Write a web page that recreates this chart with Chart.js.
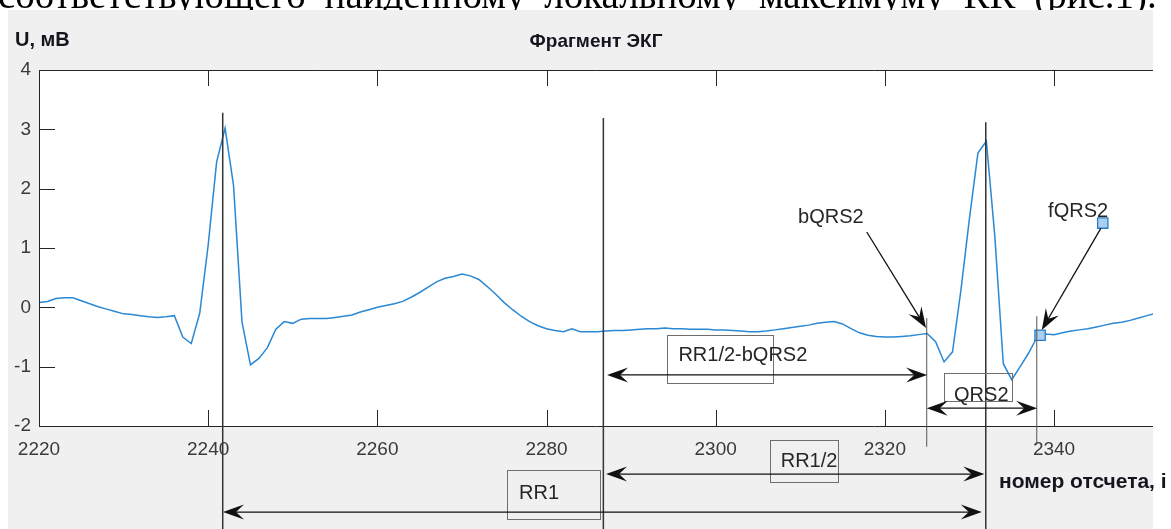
<!DOCTYPE html>
<html><head><meta charset="utf-8">
<script src="https://cdn.jsdelivr.net/npm/chart.js@4.4.0/dist/chart.umd.min.js"></script>
<style>html,body{margin:0;padding:0;background:#fff;overflow:hidden}canvas{display:block}</style>
</head><body>
<canvas id="c" width="1171" height="529" style="width:1171px;height:529px"></canvas>
<script>
// ---- data ----
const sampleIndex = [2220,2221,2222,2223,2224,2225,2226,2227,2228,2229,2230,2231,2232,2233,2234,2235,2236,2237,2238,2239,
2240,2241,2242,2243,2244,2245,2246,2247,2248,2249,2250,2251,2252,2253,2254,2255,2256,2257,2258,2259,
2260,2261,2262,2263,2264,2265,2266,2267,2268,2269,2270,2271,2272,2273,2274,2275,2276,2277,2278,2279,
2280,2281,2282,2283,2284,2285,2286,2287,2288,2289,2290,2291,2292,2293,2294,2295,2296,2297,2298,2299,
2300,2301,2302,2303,2304,2305,2306,2307,2308,2309,2310,2311,2312,2313,2314,2315,2316,2317,2318,2319,
2320,2321,2322,2323,2324,2325,2326,2327,2328,2329,2330,2331,2332,2333,2334,2335,2336,2337,2338,2339,
2340,2341,2342,2343,2344,2345,2346,2347,2348,2349,2350,2351,2352];
const ecgValues = [0.08,0.10,0.15,0.16,0.16,0.11,0.06,0.01,-0.03,-0.07,-0.11,-0.12,-0.14,-0.16,-0.17,-0.16,-0.14,-0.50,-0.61,-0.10,
1.05,2.45,3.02,2.05,-0.25,-0.97,-0.86,-0.68,-0.37,-0.24,-0.27,-0.20,-0.19,-0.19,-0.19,-0.17,-0.15,-0.13,-0.08,-0.04,
0.00,0.03,0.06,0.10,0.17,0.25,0.34,0.43,0.49,0.52,0.56,0.53,0.47,0.35,0.22,0.08,-0.04,-0.15,-0.24,-0.31,
-0.36,-0.39,-0.41,-0.36,-0.41,-0.41,-0.41,-0.40,-0.39,-0.39,-0.38,-0.37,-0.36,-0.36,-0.35,-0.36,-0.36,-0.37,-0.37,-0.37,
-0.38,-0.38,-0.39,-0.40,-0.41,-0.41,-0.40,-0.38,-0.36,-0.34,-0.32,-0.30,-0.27,-0.25,-0.24,-0.28,-0.36,-0.43,-0.47,-0.49,
-0.50,-0.50,-0.49,-0.48,-0.46,-0.44,-0.58,-0.92,-0.75,0.30,1.50,2.60,2.80,1.20,-0.95,-1.22,-1.00,-0.77,-0.50,-0.45,
-0.46,-0.43,-0.40,-0.38,-0.36,-0.33,-0.30,-0.27,-0.25,-0.22,-0.18,-0.14,-0.10];
const xTickValues = [2220,2240,2260,2280,2300,2320,2340];
const yTickValues = [-2,-1,0,1,2,3,4];
const markerX = [2338.35, 2345.76];
const markerY = [-0.47, 1.42];

// annotation geometry, in data units (sample index, mV)
const rPeakLines = [[2241.72, 3.28, -3.9], [2286.72, 3.19, -3.9], [2331.93, 3.12, -3.9]];
const qrsEdgeLines = [[2324.95, -0.18, -2.35], [2337.96, -0.15, -2.32]];
const spanArrows = [[2287.16, 2325.0, -1.14], [2324.95, 2338.0, -1.70], [2287.04, 2331.76, -2.81], [2241.75, 2331.46, -3.45]];
const pointerArrows = [[2317.86, 1.27, 2324.87, -0.35], [2345.53, 1.33, 2338.55, -0.38]];
const boxLabels = ['RR1/2-bQRS2', 'QRS2', 'RR1/2', 'RR1'];
const boxTextPos = [[2295.59, -0.81], [2328.18, -1.48], [2307.69, -2.60], [2276.75, -3.13]];
const boxFrames = [[2294.25, 2306.78, -0.47, -1.28], [2327.0, 2335.04, -1.11, -1.58], [2306.43, 2314.5, -2.24, -2.95], [2275.33, 2286.33, -2.74, -3.57]];
const pointLabels = ['bQRS2', 'fQRS2'];
const pointLabelPos = [[2309.74, 1.51], [2339.3, 1.61]];

const titleText = 'Фрагмент ЭКГ';
const yLabelText = 'U, мВ';
const xLabelText = 'номер отсчета, i';
const pageText = 'соответствующего найденному локальному максимуму RR (рис.1).';

// ---- drawing helpers ----
function arrowHead(ctx, tx, ty, ux, uy) {
  const L = 21, W = 7.5, N = 13;
  const nx = -uy, ny = ux;
  ctx.beginPath();
  ctx.moveTo(tx, ty);
  ctx.lineTo(tx - L * ux + W * nx, ty - L * uy + W * ny);
  ctx.lineTo(tx - N * ux, ty - N * uy);
  ctx.lineTo(tx - L * ux - W * nx, ty - L * uy - W * ny);
  ctx.closePath();
  ctx.fill();
}

const decor = {
  id: 'decor',
  beforeDraw(chart) {
    const ctx = chart.ctx, a = chart.chartArea;
    ctx.save();
    ctx.fillStyle = '#ffffff';
    ctx.fillRect(0, 0, chart.width, chart.height);
    ctx.fillStyle = '#000';
    ctx.font = "39px 'Liberation Serif', 'Times New Roman', serif";
    ctx.textBaseline = 'alphabetic';
    ctx.textAlign = 'left';
    if ('wordSpacing' in ctx) ctx.wordSpacing = '9px';
    ctx.fillText(pageText, -2, 8);
    if ('wordSpacing' in ctx) ctx.wordSpacing = '0px';
    ctx.fillStyle = '#f0f0f0';
    ctx.fillRect(8, 10, a.right - 8, chart.height - 10);
    ctx.fillStyle = '#ffffff';
    ctx.fillRect(a.left, a.top, a.right - a.left, a.bottom - a.top);
    ctx.restore();
  },
  afterDraw(chart) {
    const ctx = chart.ctx, a = chart.chartArea;
    const xs = chart.scales.x, ys = chart.scales.y;
    const X = v => xs.getPixelForValue(v), Y = v => ys.getPixelForValue(v);
    ctx.save();
    // frame and inner ticks
    ctx.strokeStyle = '#262626';
    ctx.lineWidth = 1;
    ctx.beginPath();
    ctx.moveTo(a.right, a.top + 0.5); ctx.lineTo(a.left + 0.5, a.top + 0.5);
    ctx.lineTo(a.left + 0.5, a.bottom + 0.5); ctx.lineTo(a.right, a.bottom + 0.5);
    const tl = 16;
    xTickValues.forEach(v => {
      const px = Math.round(X(v)) + 0.5;
      ctx.moveTo(px, a.bottom); ctx.lineTo(px, a.bottom - tl);
      ctx.moveTo(px, a.top); ctx.lineTo(px, a.top + tl);
    });
    yTickValues.forEach(v => {
      const py = Math.round(Y(v)) + 0.5;
      ctx.moveTo(a.left, py); ctx.lineTo(a.left + tl, py);
    });
    ctx.stroke();

    // titles
    ctx.fillStyle = '#151520';
    ctx.font = "bold 19px 'Liberation Sans', Arial, sans-serif";
    ctx.textBaseline = 'middle';
    ctx.textAlign = 'center';
    ctx.fillText(titleText, (a.left + a.right) / 2, 42);
    ctx.textAlign = 'left';
    ctx.font = "bold 20px 'Liberation Sans', Arial, sans-serif";
    ctx.fillText(yLabelText, 15, 40);
    ctx.font = "bold 21px 'Liberation Sans', Arial, sans-serif";
    ctx.fillText(xLabelText, 999, 482);

    // R-peak and RR/2 marker lines
    ctx.strokeStyle = '#333333';
    ctx.lineWidth = 1.5;
    ctx.beginPath();
    rPeakLines.forEach(l => { const px = X(l[0]); ctx.moveTo(px, Y(l[1])); ctx.lineTo(px, Y(l[2])); });
    ctx.stroke();
    ctx.strokeStyle = '#555555';
    ctx.lineWidth = 1;
    ctx.beginPath();
    qrsEdgeLines.forEach(l => { const px = X(l[0]); ctx.moveTo(px, Y(l[1])); ctx.lineTo(px, Y(l[2])); });
    ctx.stroke();

    // boxes
    ctx.strokeStyle = '#6e6e6e';
    ctx.lineWidth = 1;
    boxFrames.forEach(b => {
      const x1 = X(b[0]), x2 = X(b[1]), y1 = Y(b[2]), y2 = Y(b[3]);
      ctx.strokeRect(Math.round(x1) + 0.5, Math.round(y1) + 0.5, Math.round(x2 - x1), Math.round(y2 - y1));
    });

    // span arrows (double headed)
    ctx.strokeStyle = '#111111';
    ctx.fillStyle = '#111111';
    ctx.lineWidth = 1.3;
    spanArrows.forEach(s => {
      const x1 = X(s[0]), x2 = X(s[1]), py = Y(s[2]);
      ctx.beginPath(); ctx.moveTo(x1 + 10, py); ctx.lineTo(x2 - 10, py); ctx.stroke();
      arrowHead(ctx, x1, py, -1, 0);
      arrowHead(ctx, x2, py, 1, 0);
    });
    // pointer arrows
    pointerArrows.forEach(p => {
      const x1 = X(p[0]), y1 = Y(p[1]), x2 = X(p[2]), y2 = Y(p[3]);
      const d = Math.hypot(x2 - x1, y2 - y1), ux = (x2 - x1) / d, uy = (y2 - y1) / d;
      ctx.beginPath(); ctx.moveTo(x1, y1); ctx.lineTo(x2 - 10 * ux, y2 - 10 * uy); ctx.stroke();
      arrowHead(ctx, x2, y2, ux, uy);
    });

    // labels
    ctx.fillStyle = '#262626';
    ctx.font = "20px 'Liberation Sans', Arial, sans-serif";
    ctx.textAlign = 'left';
    ctx.textBaseline = 'middle';
    boxLabels.forEach((t, i) => ctx.fillText(t, X(boxTextPos[i][0]), Y(boxTextPos[i][1])));
    pointLabels.forEach((t, i) => ctx.fillText(t, X(pointLabelPos[i][0]), Y(pointLabelPos[i][1])));
    ctx.restore();
  }
};

const ecgPoints = sampleIndex.map((x, i) => ({ x: x, y: ecgValues[i] }));
const markerPts = markerX.map((x, i) => ({ x: x, y: markerY[i] }));

new Chart(document.getElementById('c'), {
  type: 'line',
  data: {
    datasets: [
      { type: 'scatter', data: markerPts, order: 0, pointStyle: 'rect', pointRadius: 7.3,
        backgroundColor: '#a9d0f0', borderColor: '#2a7cc4', borderWidth: 1.3, showLine: false },
      { data: ecgPoints, order: 1, borderColor: '#2a88d4', borderWidth: 1.5, pointRadius: 0,
        tension: 0, fill: false }
    ]
  },
  options: {
    responsive: false, animation: false, devicePixelRatio: 1,
    layout: { padding: { left: 0, top: 70, right: 18, bottom: 0 } },
    plugins: { legend: { display: false }, tooltip: { enabled: false }, title: { display: false } },
    scales: {
      x: {
        type: 'linear', min: 2220, max: 2351.7,
        afterBuildTicks: ax => { ax.ticks = xTickValues.map(v => ({ value: v })); },
        afterFit: ax => { ax.height = 103; },
        grid: { display: false, drawTicks: false }, border: { display: false },
        ticks: { padding: 12, maxRotation: 0, autoSkip: false, color: '#3a3a3a',
          callback: v => String(v),
          font: { family: "'Liberation Sans', Arial, sans-serif", size: 19 } }
      },
      y: {
        type: 'linear', min: -2, max: 4,
        afterBuildTicks: ax => { ax.ticks = yTickValues.map(v => ({ value: v })); },
        afterFit: ax => { ax.width = 39; },
        grid: { display: false, drawTicks: false }, border: { display: false },
        ticks: { padding: 8, color: '#3a3a3a', callback: v => String(v),
          font: { family: "'Liberation Sans', Arial, sans-serif", size: 19 } }
      }
    }
  },
  plugins: [decor]
});
</script>
</body></html>
